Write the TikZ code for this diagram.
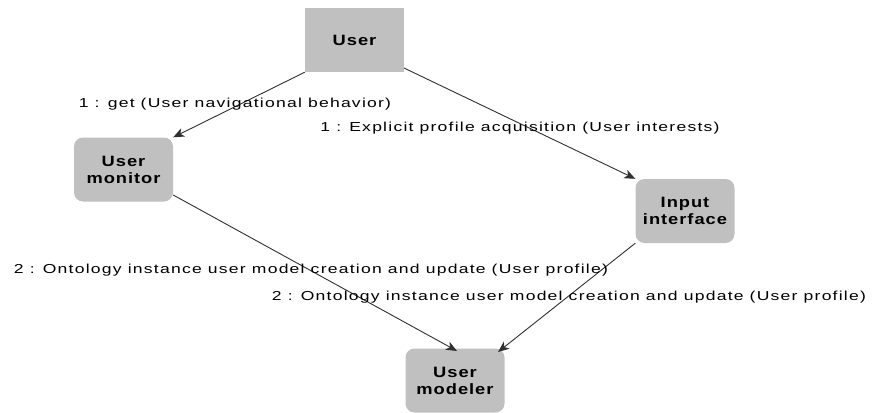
\documentclass[tikz,border=0pt]{standalone}
\usepackage{fontspec}
\setmainfont{Liberation Sans}
\newfontfamily\msgfont[FakeStretch=1.35, LetterSpace=9.5]{Liberation Sans}
\newfontfamily\boxfont[FakeStretch=1.22, LetterSpace=6.5]{Liberation Sans}
\usetikzlibrary{arrows.meta}
\definecolor{boxgray}{HTML}{C0C0C0}
\definecolor{linegray}{HTML}{303030}
\tikzset{
  box/.style={fill=boxgray, draw=none, minimum width=99pt, minimum height=64pt,
    align=center, font=\boxfont\fontsize{15}{17}\selectfont\bfseries, inner sep=0pt},
  roundbox/.style={box, rounded corners=9pt},
  flow/.style={draw=linegray, line width=0.9pt, -{Stealth[length=11pt,width=9pt,inset=3pt]}},
  msg/.style={font=\msgfont\fontsize{13}{14}\selectfont, inner sep=0pt}
}
\begin{document}
\begin{tikzpicture}[x=1pt,y=-1pt]
\useasboundingbox (0,0) rectangle (872,412);
\node[box] (user) at (354.5,40) {User};
\node[roundbox] (monitor) at (123.5,169.5) {User\\monitor};
\node[roundbox] (input) at (685,211) {Input\\interface};
\node[roundbox] (modeler) at (455,380.5) {User\\modeler};

\draw[flow] (user.south west) -- (monitor.north east);
\draw[flow] (404,68) -- (input.north west);
\draw[flow] (monitor.east |- 0,195) -- (457,351);
\draw[flow] (input.south west) -- (498,352);

\node[msg] (m1) at (235,104) {1 : get (User navigational behavior)};
\node[msg] (m2) at (520,128) {1 : Explicit profile acquisition (User interests)};
\node[msg] (m3) at (311,270) {2 : Ontology instance user model creation and update (User profile)};
\node[msg] (m4) at (569,297) {2 : Ontology instance user model creation and update (User profile)};
\end{tikzpicture}
\end{document}
